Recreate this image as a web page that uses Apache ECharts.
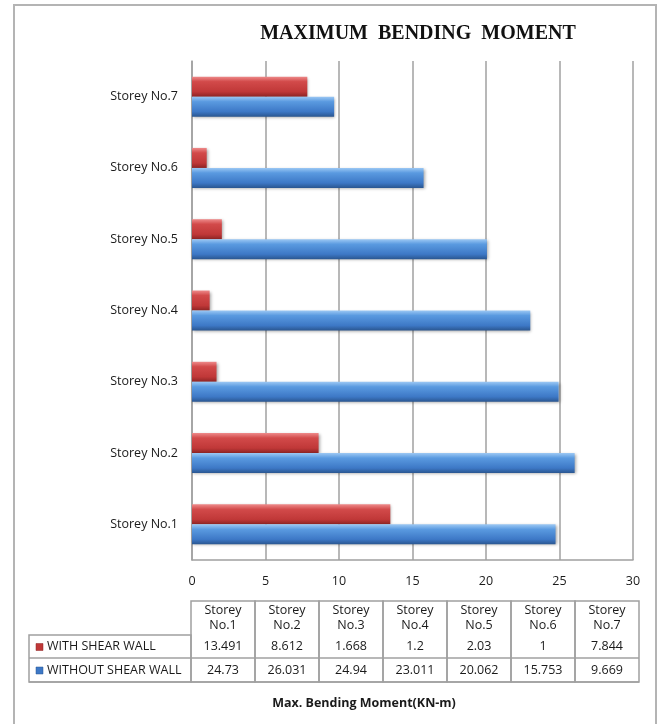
<!DOCTYPE html>
<html>
<head>
<meta charset="utf-8">
<script src="https://cdn.jsdelivr.net/npm/echarts@6/dist/echarts.min.js"></script>
<style>
  html, body { margin: 0; padding: 0; background: #fff; }
  #chart { width: 661px; height: 724px; }
</style>
</head>
<body>
<div id="chart"></div>
<script>
const storeys = ['Storey No.1', 'Storey No.2', 'Storey No.3', 'Storey No.4', 'Storey No.5', 'Storey No.6', 'Storey No.7'];
const withShearWall = [13.491, 8.612, 1.668, 1.2, 2.03, 1, 7.844];
const withoutShearWall = [24.73, 26.031, 24.94, 23.011, 20.062, 15.753, 9.669];
const seriesNames = ['WITH SHEAR WALL', 'WITHOUT SHEAR WALL'];
const valueTicks = [0, 5, 10, 15, 20, 25, 30];

const font = '"Open Sans", Lato, sans-serif';
const lineColor = '#a0a0a0';

const redFill = new echarts.graphic.LinearGradient(0, 0, 0, 1, [
  { offset: 0, color: '#ee8a8a' },
  { offset: 0.25, color: '#d24a4a' },
  { offset: 0.75, color: '#c03838' },
  { offset: 1, color: '#8e2424' }
]);
const blueFill = new echarts.graphic.LinearGradient(0, 0, 0, 1, [
  { offset: 0, color: '#9cc8f4' },
  { offset: 0.25, color: '#5a9ae0' },
  { offset: 0.75, color: '#3d78c6' },
  { offset: 1, color: '#2a5690' }
]);

// data table under the chart
const tableLeft = 191, colW = 64, legendLeft = 29;
const rowTop = [601, 635, 658, 682];
const cellStyle = { fill: 'none', stroke: lineColor, lineWidth: 1.5 };
const graphics = [];

// outer frame
graphics.push({
  type: 'rect', shape: { x: 14, y: 5, width: 642, height: 740 },
  style: { fill: 'none', stroke: '#b4b4b4', lineWidth: 2 }, silent: true
});

storeys.forEach((name, i) => {
  const x = tableLeft + i * colW;
  graphics.push({
    type: 'rect', shape: { x: x, y: rowTop[0], width: colW, height: rowTop[3] - rowTop[0] },
    style: cellStyle, silent: true
  });
  const parts = name.split(' ');
  graphics.push({
    type: 'text', x: x + colW / 2, y: (rowTop[0] + rowTop[1]) / 2,
    style: { text: parts[0] + '\n' + parts[1], font: '12.5px ' + font, fill: '#1a1a1a', align: 'center', verticalAlign: 'middle', lineHeight: 15 }
  });
  [withShearWall[i], withoutShearWall[i]].forEach((v, r) => {
    graphics.push({
      type: 'text', x: x + colW / 2, y: (rowTop[r + 1] + rowTop[r + 2]) / 2,
      style: { text: String(v), font: '12.5px ' + font, fill: '#1a1a1a', align: 'center', verticalAlign: 'middle' }
    });
  });
});
[1, 2].forEach((r) => {
  graphics.push({
    type: 'line', shape: { x1: legendLeft, y1: rowTop[r + 1], x2: tableLeft + 7 * colW, y2: rowTop[r + 1] },
    style: cellStyle, silent: true
  });
});
graphics.push({
  type: 'rect', shape: { x: legendLeft, y: rowTop[1], width: tableLeft - legendLeft, height: rowTop[3] - rowTop[1] },
  style: cellStyle, silent: true
});
[redFill, blueFill].forEach((fill, r) => {
  const cy = (rowTop[r + 1] + rowTop[r + 2]) / 2;
  graphics.push({
    type: 'rect', shape: { x: 36, y: cy - 3, width: 7, height: 7 },
    style: { fill: r === 0 ? '#c03838' : '#3d78c6', stroke: r === 0 ? '#8e2424' : '#2a5690', lineWidth: 0.5 }
  });
  graphics.push({
    type: 'text', x: 47, y: cy,
    style: { text: seriesNames[r], font: '12.5px ' + font, fill: '#1a1a1a', verticalAlign: 'middle', width: tableLeft - 48, overflow: 'truncate', ellipsis: '' }
  });
});
graphics.push({
  type: 'text', x: 364, y: 703,
  style: { text: 'Max. Bending Moment(KN-m)', font: 'bold 12.5px ' + font, fill: '#1a1a1a', align: 'center', verticalAlign: 'middle' }
});

const chart = echarts.init(document.getElementById('chart'));
chart.setOption({
  animation: false,
  backgroundColor: '#fff',
  title: {
    text: 'MAXIMUM  BENDING  MOMENT',
    left: 413, top: 19, textAlign: 'center',
    textStyle: { fontFamily: '"Liberation Serif", "DejaVu Serif", serif', fontWeight: 'bold', fontSize: 20, color: '#111' }
  },
  grid: { left: 192, right: 28, top: 61, height: 499, containLabel: false },
  xAxis: {
    type: 'value', min: valueTicks[0], max: valueTicks[valueTicks.length - 1], interval: 5,
    axisLine: { show: true, lineStyle: { color: lineColor, width: 1.5 } },
    axisTick: { show: false },
    axisLabel: { fontFamily: font, fontSize: 12.5, color: '#1a1a1a', margin: 15 },
    splitLine: { show: true, lineStyle: { color: lineColor, width: 1.5 } }
  },
  yAxis: {
    type: 'category', data: storeys,
    axisLine: { show: true, lineStyle: { color: lineColor, width: 1.5 } },
    axisTick: { show: false },
    axisLabel: { fontFamily: font, fontSize: 12.5, color: '#1a1a1a', margin: 14 }
  },
  series: [
    {
      name: seriesNames[0], type: 'bar', data: withShearWall,
      barWidth: 20, barGap: '0%',
      itemStyle: { color: redFill, shadowColor: 'rgba(0,0,0,0.35)', shadowBlur: 3, shadowOffsetX: 1, shadowOffsetY: 1 }
    },
    {
      name: seriesNames[1], type: 'bar', data: withoutShearWall,
      barWidth: 20, barGap: '0%',
      itemStyle: { color: blueFill, shadowColor: 'rgba(0,0,0,0.35)', shadowBlur: 3, shadowOffsetX: 1, shadowOffsetY: 1 }
    }
  ],
  graphic: graphics
});
</script>
</body>
</html>
